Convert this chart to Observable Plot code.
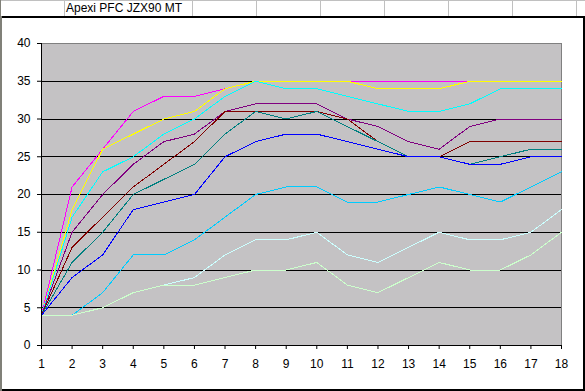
<!DOCTYPE html>
<html><head><meta charset="utf-8">
<script src="https://cdn.jsdelivr.net/npm/d3@7"></script>
<script src="https://cdn.jsdelivr.net/npm/@observablehq/plot@0.6"></script>
<style>
html,body{margin:0;padding:0;background:#fff}
body{width:585px;height:391px;overflow:hidden;position:relative;font-family:"Liberation Sans",Arial,sans-serif}
.abs{position:absolute}
#title{position:absolute;left:66px;top:1px;font-size:12px;line-height:14px;color:#000;white-space:nowrap}
#chart{position:absolute;left:0;top:17px;width:585px;height:374px}
</style></head><body>
<div id="sheet"></div>
<div id="title">Apexi PFC JZX90 MT</div>
<div id="chart"></div>
<script>
// Data
const steps = [1,2,3,4,5,6,7,8,9,10,11,12,13,14,15,16,17,18];
const xTicks = [1,2,3,4,5,6,7,8,9,10,11,12,13,14,15,16,17,18];
const yTicks = [0,5,10,15,20,25,30,35,40];
const gridLines = [5,10,15,20,25,30,35];
const magenta = [4,21,26,31,33,33,34,35,35,35,35,35,35,35,35,35,35,35];
const yellow  = [4,18,26,28,30,31,34,35,35,35,35,34,34,34,35,35,35,35];
const cyan    = [4,17,23,25,28,30,33,35,34,34,33,32,31,31,32,34,34,34];
const purple  = [4,15,20,24,27,28,31,32,32,32,30,29,27,26,29,30,30,30];
const maroon  = [4,13,17,21,24,27,31,31,31,31,30,27,25,25,27,27,27,27];
const teal    = [4,11,15,20,22,24,28,31,30,31,29,27,25,25,24,25,26,26];
const blue    = [4,9,12,18,19,20,25,27,28,28,27,26,25,25,24,24,25,25];
const sky     = [4,4,7,12,12,14,17,20,21,21,19,19,20,21,20,19,21,23];
const pale    = [4,4,5,7,8,9,12,14,14,15,12,11,13,15,14,14,15,18];
const green   = [4,4,5,7,8,8,9,10,10,11,8,7,9,11,10,10,12,15];

const series = [
  {values: magenta, color: "#FF00FF"},
  {values: yellow,  color: "#FFFF00"},
  {values: cyan,    color: "#00FFFF"},
  {values: purple,  color: "#800080"},
  {values: maroon,  color: "#800000"},
  {values: teal,    color: "#008080"},
  {values: blue,    color: "#0000FF"},
  {values: sky,     color: "#00CCFF"},
  {values: pale,    color: "#CCFFFF"},
  {values: green,   color: "#CCFFCC"}
];

// spreadsheet row above the chart
const sheet = document.getElementById("sheet");
function box(l,t,w,h,c){const d=document.createElement("div");d.className="abs";d.style.cssText=`left:${l}px;top:${t}px;width:${w}px;height:${h}px;background:${c}`;sheet.appendChild(d);}
box(0,0,585,1,"#c0c0c0");
[64,192,256,320,384,448,512,576].forEach(x=>box(x,0,1,17,"#c0c0c0"));
box(0,0,1,391,"#808078");

const lineMarks = series.map(s =>
  Plot.line(steps.map((x,i)=>({x, y: s.values[i]})), {x:"x", y:"y", stroke: s.color, strokeWidth: 1, shapeRendering: "crispEdges"})
);

const chart = Plot.plot({
  width: 585,
  height: 374,
  marginLeft: 41,
  marginRight: 24,
  marginTop: 26,
  marginBottom: 46,
  style: {fontFamily: "'Liberation Sans', Arial, sans-serif", fontSize: "12px", color: "#000", background: "transparent", overflow: "visible"},
  x: {type: "linear", domain: [1,18]},
  y: {domain: [0,40]},
  marks: [
    Plot.frame({fill: "#c4c2c4", stroke: "#808080", shapeRendering: "crispEdges"}),
    Plot.ruleY(gridLines, {stroke: "#000", strokeWidth: 1, shapeRendering: "crispEdges"}),
    ...lineMarks,
    Plot.ruleX([1], {stroke: "#000", shapeRendering: "crispEdges"}),
    Plot.ruleY([0], {stroke: "#000", shapeRendering: "crispEdges"}),
    Plot.axisY({ticks: yTicks, tickSize: 4, tickPadding: 7, label: null, tickFormat: d=>String(d), stroke: "#000", strokeOpacity: 1, fill: "#000"}),
    Plot.axisX({ticks: xTicks, tickSize: 4, tickPadding: 10, label: null, tickFormat: d=>String(d), stroke: "#000", strokeOpacity: 1, fill: "#000"})
  ]
});
document.getElementById("chart").appendChild(chart);

// chart area border
const chartDiv = document.getElementById("chart");
function cbox(l,t,w,h,c){const d=document.createElement("div");d.className="abs";d.style.cssText=`left:${l}px;top:${t}px;width:${w}px;height:${h}px;background:${c}`;document.body.appendChild(d);}
cbox(0,16,585,2,"#000");
cbox(583,16,2,375,"#000");
cbox(0,389,585,2,"#000");
cbox(0,16,2,375,"#808078");
</script>
</body></html>
